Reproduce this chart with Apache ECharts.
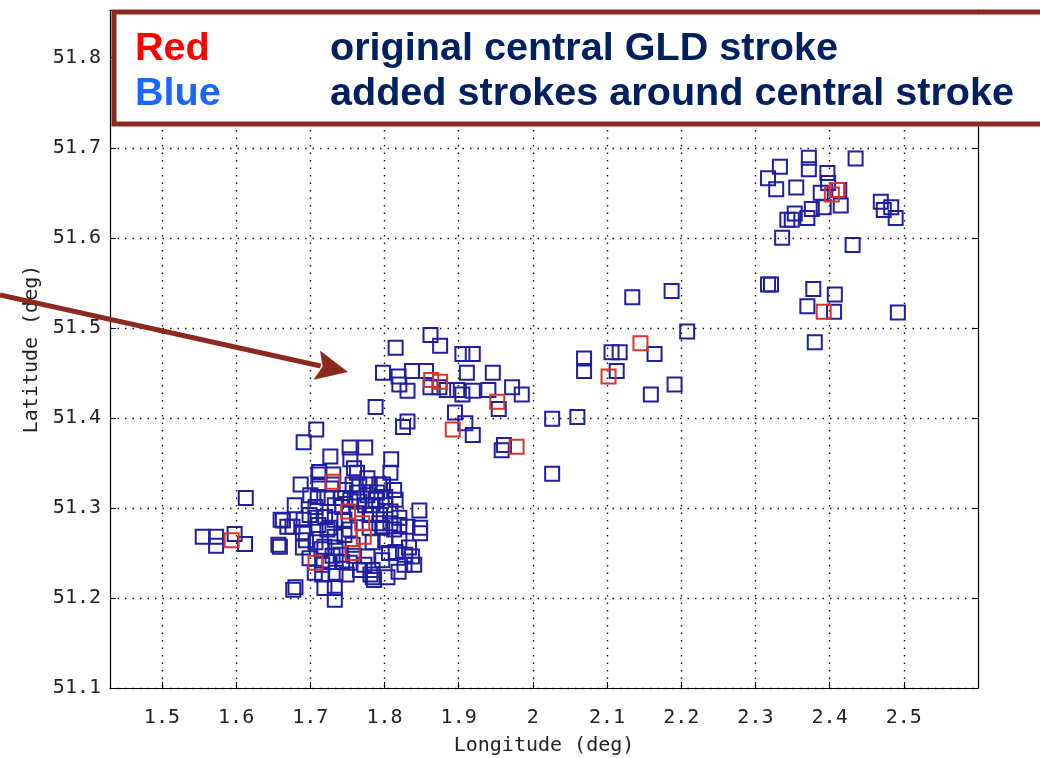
<!DOCTYPE html>
<html>
<head>
<meta charset="utf-8">
<script src="https://cdn.jsdelivr.net/npm/echarts@6/dist/echarts.min.js"></script>
<style>
  html, body { margin: 0; padding: 0; background: #ffffff; }
  #chart { width: 1040px; height: 758px; }
</style>
</head>
<body>
<div id="chart"></div>
<script>
// Tick positions (degrees)
const lonTicks = [1.5, 1.6, 1.7, 1.8, 1.9, 2, 2.1, 2.2, 2.3, 2.4, 2.5];
const latTicks = [51.1, 51.2, 51.3, 51.4, 51.5, 51.6, 51.7, 51.8];

// Blue: added strokes around the central stroke [lon, lat]
const addedStrokes = [
  // western tail
  [1.555, 51.268], [1.573, 51.268], [1.573, 51.258], [1.598, 51.271], [1.612, 51.260],
  [1.613, 51.311], [1.657, 51.259], [1.663, 51.286], [1.676, 51.279], [1.659, 51.257],
  [1.660, 51.287], [1.669, 51.279],
  // main cell
  [1.708, 51.387], [1.691, 51.373], [1.727, 51.357], [1.753, 51.367], [1.754, 51.354],
  [1.774, 51.367], [1.809, 51.354], [1.712, 51.340], [1.687, 51.326], [1.730, 51.326],
  [1.712, 51.326], [1.757, 51.326], [1.759, 51.344], [1.808, 51.339], [1.766, 51.326],
  [1.780, 51.326], [1.793, 51.326], [1.813, 51.320], [1.710, 51.312], [1.723, 51.311],
  [1.763, 51.317], [1.777, 51.314], [1.790, 51.317], [1.801, 51.312], [1.679, 51.303],
  [1.733, 51.303], [1.743, 51.301], [1.707, 51.301], [1.766, 51.307], [1.784, 51.303],
  [1.801, 51.303], [1.815, 51.309], [1.847, 51.297], [1.720, 51.290], [1.733, 51.287],
  [1.707, 51.289], [1.763, 51.294], [1.780, 51.292], [1.794, 51.292], [1.808, 51.296],
  [1.820, 51.289], [1.793, 51.283], [1.808, 51.283], [1.820, 51.281], [1.848, 51.278],
  [1.690, 51.273], [1.694, 51.264], [1.690, 51.256], [1.707, 51.262], [1.719, 51.257],
  [1.726, 51.278], [1.733, 51.268], [1.746, 51.270], [1.753, 51.276], [1.734, 51.256],
  [1.741, 51.248], [1.757, 51.259], [1.699, 51.244], [1.716, 51.237], [1.726, 51.240],
  [1.743, 51.240], [1.753, 51.239], [1.706, 51.228], [1.716, 51.226], [1.734, 51.228],
  [1.680, 51.212], [1.677, 51.209], [1.719, 51.211], [1.733, 51.211], [1.733, 51.198],
  [1.848, 51.272], [1.831, 51.279], [1.813, 51.276], [1.797, 51.278], [1.780, 51.278],
  [1.820, 51.264], [1.801, 51.264], [1.784, 51.262], [1.833, 51.256], [1.837, 51.246],
  [1.827, 51.237], [1.840, 51.237], [1.777, 51.246], [1.773, 51.237], [1.784, 51.231],
  [1.781, 51.226], [1.804, 51.223], [1.786, 51.220], [1.797, 51.242], [1.806, 51.250],
  [1.815, 51.251], [1.711, 51.337], [1.731, 51.337], [1.763, 51.339], [1.784, 51.223],
  [1.828, 51.248], [1.747, 51.320], [1.741, 51.311], [1.754, 51.309], [1.774, 51.303],
  [1.746, 51.287], [1.788, 51.309], [1.798, 51.326], [1.777, 51.333], [1.723, 51.276],
  [1.711, 51.281], [1.699, 51.292], [1.715, 51.254], [1.730, 51.247], [1.759, 51.247],
  [1.767, 51.231], [1.749, 51.226], [1.819, 51.229], [1.700, 51.314], [1.691, 51.287],
  // northern band
  [1.862, 51.492], [1.875, 51.480], [1.815, 51.478], [1.905, 51.471], [1.919, 51.471],
  [1.798, 51.450], [1.819, 51.446], [1.820, 51.437], [1.831, 51.430], [1.837, 51.452],
  [1.856, 51.452], [1.862, 51.434], [1.884, 51.431], [1.898, 51.431], [1.905, 51.426],
  [1.919, 51.430], [1.940, 51.431], [1.911, 51.450], [1.946, 51.450], [1.972, 51.434],
  [1.985, 51.426], [1.954, 51.410], [1.788, 51.412], [1.895, 51.406], [1.831, 51.396],
  [1.825, 51.390], [1.909, 51.394], [1.919, 51.381], [1.961, 51.370], [1.958, 51.364],
  [1.874, 51.434],
  // eastern band
  [2.134, 51.534], [2.187, 51.541], [2.208, 51.496], [2.164, 51.471], [2.106, 51.473],
  [2.117, 51.473], [2.069, 51.466], [2.069, 51.452], [2.113, 51.452], [2.191, 51.437],
  [2.159, 51.426], [2.026, 51.399], [2.060, 51.401], [2.026, 51.338],
  // north-east cell
  [2.372, 51.689], [2.372, 51.676], [2.333, 51.679], [2.435, 51.688], [2.317, 51.666],
  [2.328, 51.654], [2.355, 51.656], [2.397, 51.672], [2.398, 51.661], [2.388, 51.650],
  [2.413, 51.653], [2.415, 51.636], [2.392, 51.634], [2.376, 51.632], [2.370, 51.622],
  [2.353, 51.627], [2.343, 51.620], [2.349, 51.620], [2.469, 51.640], [2.473, 51.631],
  [2.483, 51.634], [2.489, 51.622], [2.336, 51.600], [2.431, 51.592], [2.317, 51.548],
  [2.321, 51.548], [2.378, 51.543], [2.407, 51.537], [2.370, 51.524], [2.406, 51.518],
  [2.492, 51.517], [2.380, 51.484]
];

// Red: original central GLD strokes [lon, lat]
const centralStrokes = [
  [1.594, 51.264],
  [1.730, 51.329], [1.751, 51.296], [1.770, 51.283], [1.772, 51.268], [1.757, 51.250],
  [1.707, 51.239],
  [1.863, 51.442], [1.875, 51.440], [1.952, 51.418], [1.892, 51.387], [1.978, 51.368],
  [2.145, 51.483], [2.102, 51.446],
  [2.403, 51.648], [2.410, 51.653], [2.392, 51.518]
];

const legendRows = [
  { key: 'Red',  keyColor: '#ff0000', text: 'original central GLD stroke' },
  { key: 'Blue', keyColor: '#1a66ff', text: 'added strokes around central stroke' }
];

const chart = echarts.init(document.getElementById('chart'), null, { renderer: 'canvas' });

const monoFont = '"DejaVu Sans Mono", "Liberation Mono", monospace';
const gridLine = { show: true, lineStyle: { color: '#111', width: 1.4, type: [1.5, 6] } };
const frameLine = { show: true, onZero: false, lineStyle: { color: '#000', width: 1.2 } };
const innerTick = { show: true, inside: true, length: 6, lineStyle: { color: '#000', width: 1 } };

const squareStyle = (color) => ({
  color: 'rgba(0,0,0,0)',
  borderColor: color,
  borderWidth: 2,
  opacity: 1
});

const legendFont = 'bold 39.6px "Liberation Sans", Arial, sans-serif';
const legendGraphics = [
  {
    type: 'rect',
    z: 100,
    shape: { x: 114, y: 12, width: 960, height: 112 },
    style: { fill: '#ffffff', stroke: '#8c2a1f', lineWidth: 5 }
  }
];
legendRows.forEach((row, i) => {
  const topY = 29 + i * 45;
  legendGraphics.push({
    type: 'text', z: 101, x: 135, y: topY,
    style: { text: row.key, fill: row.keyColor, font: legendFont, verticalAlign: 'top' }
  });
  legendGraphics.push({
    type: 'text', z: 101, x: 330, y: topY,
    style: { text: row.text, fill: '#002060', font: legendFont, verticalAlign: 'top' }
  });
});

// pointer arrow
const tail = [0, 295];
const tip = [348, 372];
const ang = Math.atan2(tip[1] - tail[1], tip[0] - tail[0]);
const headLen = 32, headHalf = 15;
const base = [tip[0] - headLen * Math.cos(ang), tip[1] - headLen * Math.sin(ang)];
const perp = [-Math.sin(ang), Math.cos(ang)];
legendGraphics.push({
  type: 'line', z: 100,
  shape: { x1: tail[0], y1: tail[1], x2: base[0] + 4 * Math.cos(ang), y2: base[1] + 4 * Math.sin(ang) },
  style: { stroke: '#8c2a1f', lineWidth: 5 }
});
legendGraphics.push({
  type: 'polygon', z: 100,
  shape: {
    points: [
      tip,
      [base[0] + headHalf * perp[0], base[1] + headHalf * perp[1]],
      [base[0] + 6 * Math.cos(ang), base[1] + 6 * Math.sin(ang)],
      [base[0] - headHalf * perp[0], base[1] - headHalf * perp[1]]
    ]
  },
  style: { fill: '#8c2a1f' }
});

const labelStyle = { fontFamily: monoFont, fontSize: 20, color: '#222' };

chart.setOption({
  animation: false,
  backgroundColor: '#ffffff',
  grid: { left: 110, right: 62, top: 10, bottom: 70, containLabel: false, outerBoundsMode: 'none' },
  xAxis: [
    {
      type: 'value', min: 1.43, max: 2.6, position: 'bottom',
      name: 'Longitude (deg)', nameLocation: 'middle', nameGap: 48,
      nameTextStyle: labelStyle,
      axisLine: frameLine,
      axisTick: Object.assign({ customValues: lonTicks }, innerTick),
      axisLabel: Object.assign({ customValues: lonTicks, margin: 20 }, labelStyle),
      splitLine: gridLine
    },
    {
      type: 'value', min: 1.43, max: 2.6, position: 'top',
      axisLine: frameLine,
      axisTick: Object.assign({ customValues: lonTicks }, innerTick),
      axisLabel: { show: false },
      splitLine: { show: false }
    }
  ],
  yAxis: [
    {
      type: 'value', min: 51.1, max: 51.853, position: 'left',
      name: 'Latitude (deg)', nameLocation: 'middle', nameGap: 65, nameRotate: 90,
      nameTextStyle: labelStyle,
      axisLine: frameLine,
      axisTick: Object.assign({ customValues: latTicks }, innerTick),
      axisLabel: Object.assign({
        customValues: latTicks, margin: 9,
        formatter: (v) => v.toFixed(1)
      }, labelStyle),
      splitLine: gridLine
    },
    {
      type: 'value', min: 51.1, max: 51.853, position: 'right',
      axisLine: frameLine,
      axisTick: Object.assign({ customValues: latTicks }, innerTick),
      axisLabel: { show: false },
      splitLine: { show: false }
    }
  ],
  series: [
    {
      name: 'added', type: 'scatter', symbol: 'rect', symbolSize: 14,
      data: addedStrokes, itemStyle: squareStyle('#1f1f9f'), z: 3
    },
    {
      name: 'central', type: 'scatter', symbol: 'rect', symbolSize: 14,
      data: centralStrokes, itemStyle: squareStyle('#d8352c'), z: 4
    }
  ],
  graphic: legendGraphics
});
</script>
</body>
</html>
